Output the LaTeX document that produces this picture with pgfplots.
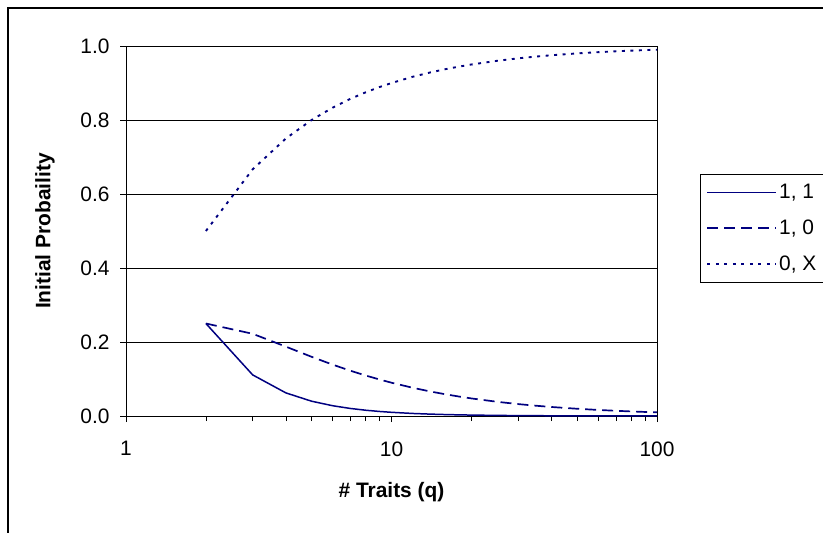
\documentclass[border=0pt]{standalone}
\usepackage{pgfplots}
\pgfplotsset{compat=1.18}
\usepackage{fontspec}
\setmainfont{Liberation Sans}
\definecolor{xlnavy}{RGB}{0,0,128}
\newcommand{\chartfont}{\fontsize{21}{25}\selectfont}
\begin{document}
\begin{tikzpicture}
\begin{axis}[
    at={(126bp,-416bp)}, anchor=south west,
    scale only axis, width=531bp, height=370bp,
    xmode=log, xmin=1, xmax=100, ymin=0, ymax=1,
    clip=false,
    xtick={1,10,100}, xticklabels={1,10,100},
    minor xtick={2,3,4,5,6,7,8,9,20,30,40,50,60,70,80,90},
    ytick={0,0.2,0.4,0.6,0.8,1},
    yticklabel style={/pgf/number format/fixed, /pgf/number format/fixed zerofill, /pgf/number format/precision=1},
    /pgf/number format/assume math mode=true,
    tick align=outside, tick pos=left,
    major tick length=6bp, minor tick length=5bp,
    tick style={black, line width=0.6pt},
    axis line style={black, line width=1pt},
    ymajorgrids, major grid style={black, line width=0.6pt},
    ticklabel style={font=\chartfont},
    xticklabel style={yshift=-16bp},
    yticklabel style={xshift=-7bp},
    label style={font=\chartfont\bfseries},
    xlabel={\# Traits (q)},
    ylabel={Initial Probaility},
    xlabel style={at={(axis description cs:0.5,-0.205)}, anchor=center},
    ylabel style={at={(axis description cs:-0.1525,0.5)}, anchor=center},
    legend style={at={(1.081,0.654)}, anchor=north west, draw=black, line width=0.6pt,
        font=\chartfont, row sep=16bp, inner xsep=6bp, inner ysep=8bp},
    legend cell align=left,
    legend image code/.code={\draw[#1] (0bp,0bp) -- (69bp,0bp);},
]
\addplot[xlnavy, line width=1.5pt] coordinates {
    (2,0.25) (3,0.1111) (4,0.0625) (5,0.04) (6,0.0278) (7,0.0204) (8,0.0156)
    (9,0.0123) (10,0.01) (12,0.0069) (14,0.0051) (16,0.0039) (18,0.0031)
    (20,0.0025) (25,0.0016) (30,0.0011) (35,0.0008) (40,0.0006) (50,0.0004)
    (60,0.0003) (70,0.0002) (80,0.0002) (90,0.0001) (100,0.0001)};
\addlegendentry{1, 1}
\addplot[xlnavy, line width=1.7pt, dash pattern=on 11bp off 6bp] coordinates {
    (2,0.25) (3,0.2222) (4,0.1875) (5,0.16) (6,0.1389) (7,0.1224) (8,0.1094)
    (9,0.0988) (10,0.09) (12,0.0764) (14,0.0663) (16,0.0586) (18,0.0525)
    (20,0.0475) (25,0.0384) (30,0.0322) (35,0.0278) (40,0.0244) (50,0.0196)
    (60,0.0164) (70,0.0141) (80,0.0123) (90,0.0110) (100,0.0099)};
\addlegendentry{1, 0}
\addplot[xlnavy, line width=1.9pt, dash pattern=on 3bp off 5.5bp] coordinates {
    (2,0.5) (3,0.6667) (4,0.75) (5,0.8) (6,0.8333) (7,0.8571) (8,0.875)
    (9,0.8889) (10,0.9) (12,0.9167) (14,0.9286) (16,0.9375) (18,0.9444)
    (20,0.95) (25,0.96) (30,0.9667) (35,0.9714) (40,0.975) (50,0.98)
    (60,0.9833) (70,0.9857) (80,0.9875) (90,0.9889) (100,0.99)};
\addlegendentry{0, X}
\end{axis}
\draw[black, line width=1.2pt] (8bp,-8bp) rectangle (860bp,-560bp);
\pgfresetboundingbox
\path[use as bounding box] (0bp,0bp) rectangle (823bp,-533bp);
\end{tikzpicture}
\end{document}
